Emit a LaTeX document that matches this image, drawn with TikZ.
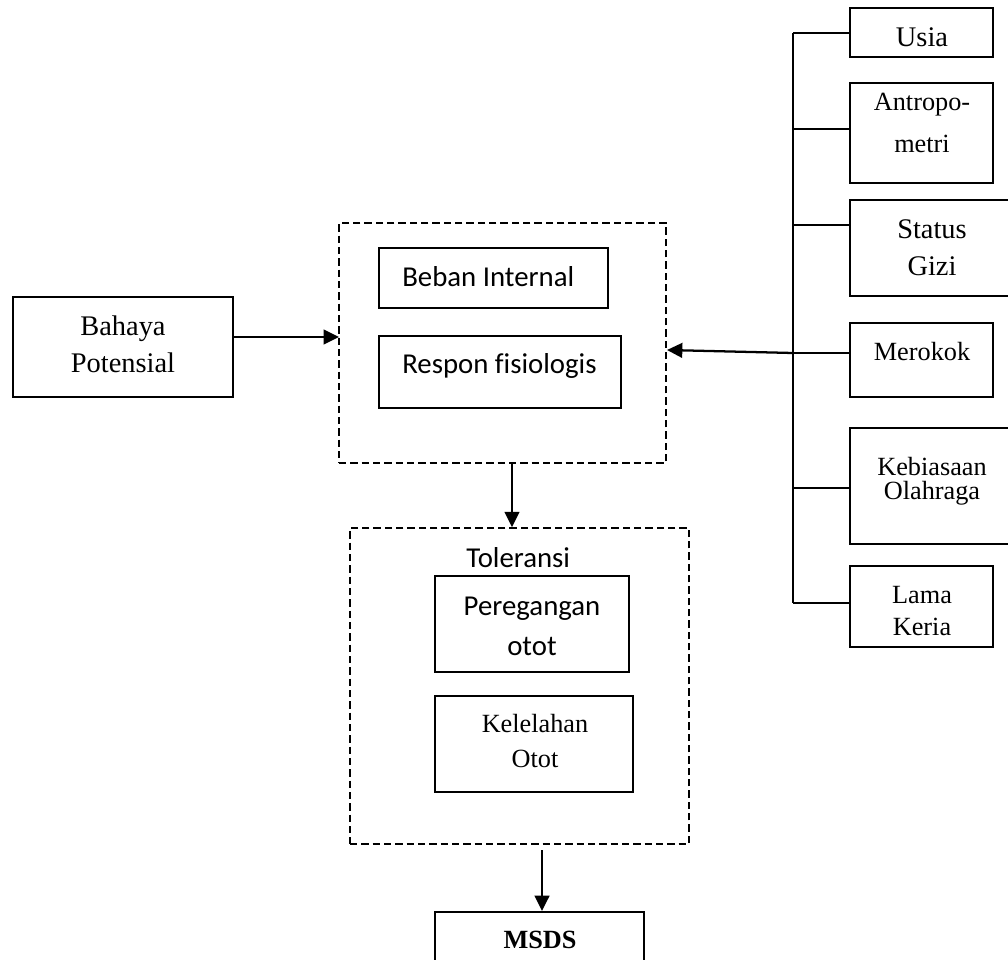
\documentclass[tikz,border=0pt]{standalone}
\usepackage{fontspec}
\setmainfont{Liberation Serif}
\newfontfamily\calibfont[Ligatures=NoCommon]{Carlito}
\usetikzlibrary{arrows.meta,fit}
\tikzset{
  box/.style={draw, line width=1.45pt, inner sep=0pt},
  dbox/.style={draw, line width=1.2pt, dash pattern=on 5.5pt off 3pt, inner sep=0pt},
  wire/.style={line width=1.45pt},
  arr/.style={line width=1.7pt, -{Triangle[length=11.5pt,width=11pt]}},
  tm/.style={anchor=base, inner sep=0pt, font=\fontsize{19.7}{23}\selectfont},
  tl/.style={anchor=base, inner sep=0pt, font=\fontsize{21.3}{25}\selectfont},
  cb/.style={anchor=base west, inner sep=0pt, font=\calibfont\fontsize{21.6}{26}\selectfont},
  cbc/.style={anchor=base, inner sep=0pt, font=\calibfont\fontsize{21.6}{26}\selectfont},
}
\begin{document}
\begin{tikzpicture}[x=0.75pt, y=-0.75pt]
\useasboundingbox (0,0) rectangle (1008,960);

% --- left input
\node[box, fit={(13,297) (233,397)}] (bahaya) {};
\node[tl] (tbah1) at (123,335) {Bahaya};
\node[tl] (tbah2) at (123,372) {Potensial};

% --- first dashed group
\node[dbox, fit={(339,223) (666,463)}] (grp1) {};
\node[box, fit={(379,248) (608,308)}] (beban) {};
\node[cb] (tbeban) at (402,286) {Beban Internal};
\node[box, fit={(379,336) (621,408)}] (respon) {};
\node[cb] (trespon) at (402,373) {Respon fisiologis};

% --- second dashed group
\node[dbox, fit={(350,528) (689,844)}] (grp2) {};
\node[cb] (ttol) at (466,567) {Toleransi};
\node[box, fit={(435,576) (629,672)}] (pereg) {};
\node[cbc] (tper1) at (532,615) {Peregangan};
\node[cbc] (tper2) at (532,655) {otot};
\node[box, fit={(435,696) (633,792)}] (lelah) {};
\node[tm] (tlel1) at (535,732) {Kelelahan};
\node[tm] (tlel2) at (535,767) {Otot};

% --- outcome
\node[box, fit={(435,912) (644,985)}] (msds) {};
\node[tm, font=\bfseries\fontsize{19.7}{23}\selectfont] (tmsds) at (540,948) {MSDS};

% --- individual factors
\node[box, fit={(850,8) (993,57)}] (usia) {};
\node[tl] (tusia) at (922,46) {Usia};
\node[box, fit={(850,83) (993,183)}] (antro) {};
\node[tm] (tant1) at (922,110) {Antropo-};
\node[tm] (tant2) at (922,152) {metri};
\node[box, fit={(850,200) (1012,296)}] (gizi) {};
\node[tl] (tgiz1) at (932,238) {Status};
\node[tl] (tgiz2) at (932,275) {Gizi};
\node[box, fit={(850,323) (993,397)}] (rokok) {};
\node[tm] (trok) at (922,360) {Merokok};
\node[box, fit={(850,428) (1012,544)}] (olah) {};
\node[tm] (tola1) at (932,475) {Kebiasaan};
\node[tm] (tola2) at (932,499) {Olahraga};
\node[box, fit={(850,566) (993,647)}] (lama) {};
\node[tm] (tlam1) at (922,603) {Lama};
\node[tm] (tlam2) at (922,635) {Keria};

% --- bus joining the factors
\coordinate (bustop) at (793,33);
\coordinate (busbot) at (793,603);
\coordinate (busrok) at (793,353);
\draw[wire] (bustop) -- (busbot);
\draw[wire] (bustop) -- (usia.west |- bustop);
\draw[wire] (bustop |- 0,129) -- (antro.west |- 0,129);
\draw[wire] (bustop |- 0,225) -- (gizi.west |- 0,225);
\draw[wire] (busrok) -- (rokok.west |- busrok);
\draw[wire] (bustop |- 0,488) -- (olah.west |- 0,488);
\draw[wire] (busbot) -- (lama.west |- busbot);

% --- arrows
\coordinate (inR) at (667,350);
\coordinate (inL) at (339,337);
\coordinate (dn1) at (512,463);
\coordinate (dn2) at (542,850);
\draw[arr] (busrok) -- (inR);
\draw[arr] (bahaya.east |- inL) -- (inL);
\draw[arr] (dn1) -- (dn1 |- grp2.north);
\draw[arr] (dn2) -- (dn2 |- msds.north);
\end{tikzpicture}
\end{document}
